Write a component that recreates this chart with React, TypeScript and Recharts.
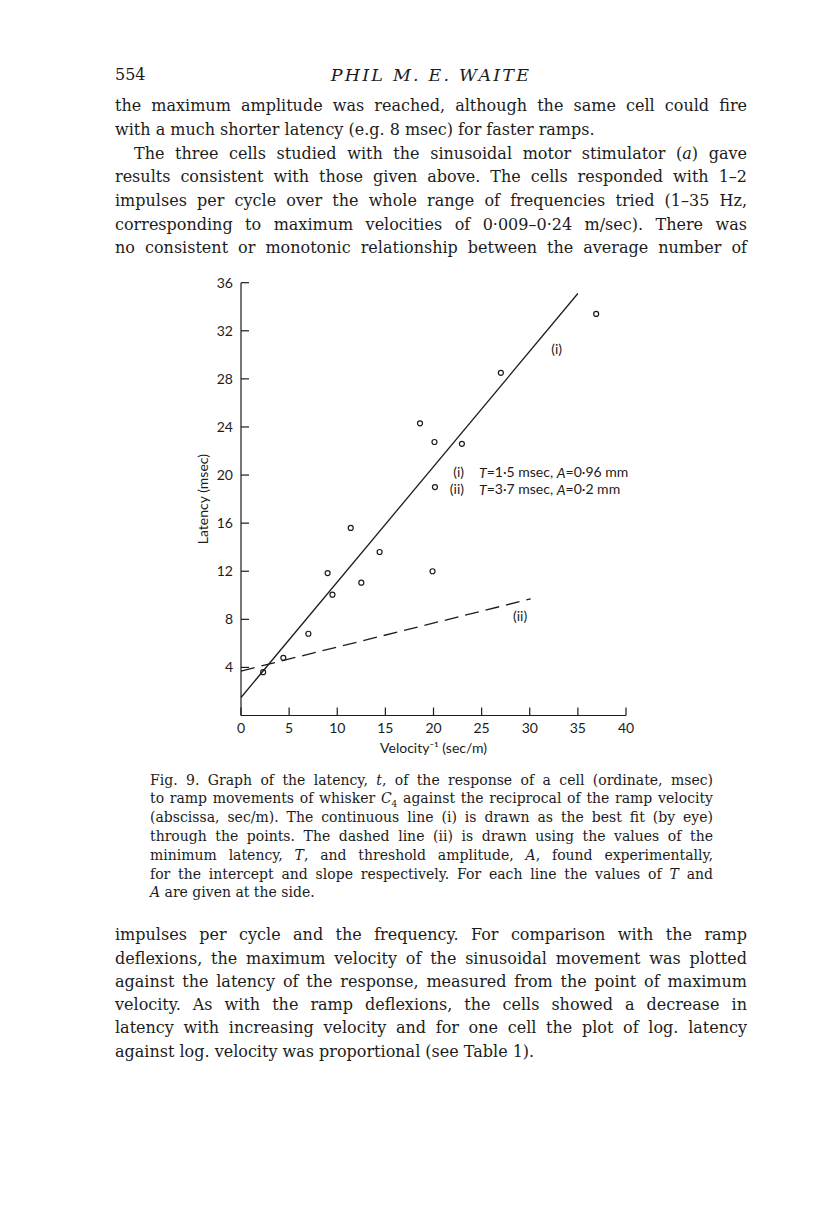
import React from 'react'
import { ScatterChart, Scatter, XAxis, YAxis, ReferenceDot } from 'recharts'

// axis ticks
const X_TICKS = [0, 5, 10, 15, 20, 25, 30, 35, 40]
const Y_TICKS = [4, 8, 12, 16, 20, 24, 28, 32, 36]

// measured latencies (msec) vs 1/velocity (sec/m)
const POINTS = [
  { x: 2.3, y: 3.6 },
  { x: 4.4, y: 4.8 },
  { x: 7.0, y: 6.8 },
  { x: 9.0, y: 11.85 },
  { x: 9.5, y: 10.05 },
  { x: 11.4, y: 15.6 },
  { x: 12.5, y: 11.05 },
  { x: 14.4, y: 13.6 },
  { x: 18.6, y: 24.3 },
  { x: 19.9, y: 12.0 },
  { x: 20.1, y: 22.75 },
  { x: 20.15, y: 19.0 },
  { x: 22.95, y: 22.6 },
  { x: 27.0, y: 28.5 },
  { x: 36.9, y: 33.4 },
]

// line (i): best fit by eye, line (ii): from T and A
const LINE_I = [
  { x: 0, y: 1.5 },
  { x: 35, y: 35.1 },
]
const LINE_II = [
  { x: 0, y: 3.7 },
  { x: 30.1, y: 9.7 },
]

const LEGEND_ROWS = [
  { roman: '(i)', t: '1·5', a: '0·96', x: 23.17, y: 20.26 },
  { roman: '(ii)', t: '3·7', a: '0·2', x: 23.17, y: 18.88 },
]
const LINE_TAGS = [
  { text: '(i)', x: 32.8, y: 30.5 },
  { text: '(ii)', x: 29.0, y: 8.24 },
]

const INK = '#1c1c1c'
const SANS = 'Lato, "Open Sans", sans-serif'
const SERIF = '"DejaVu Serif", "Liberation Serif", serif'

const OpenDot = (p: any) => (
  <circle cx={p.cx} cy={p.cy} r={2.5} fill="none" stroke={INK} strokeWidth={1.2} />
)
const NoDot = () => <g />

const LegendRow = ({ viewBox, roman, t, a }: any) => {
  const cx = viewBox.x + viewBox.width / 2
  const cy = viewBox.y + viewBox.height / 2
  return (
    <g fontSize={14} fill={INK} fontFamily={SANS}>
      <text x={cx} y={cy} textAnchor="end" dominantBaseline="central">
        {roman}
      </text>
      <text x={cx + 15} y={cy} dominantBaseline="central">
        <tspan fontStyle="italic">T</tspan>={t} msec, <tspan fontStyle="italic">A</tspan>={a} mm
      </text>
    </g>
  )
}

const Row = ({ children, last, indent }: { children: React.ReactNode; last?: boolean; indent?: number }) => (
  <div
    style={{
      textAlign: last ? 'left' : 'justify',
      textAlignLast: last ? 'left' : 'justify',
      textIndent: indent ?? 0,
      whiteSpace: 'nowrap',
    }}
  >
    {children}
  </div>
)

function Figure() {
  return (
    <ScatterChart
      width={520}
      height={520}
      margin={{ top: 22.7, right: 44, bottom: 24.5, left: 15 }}
      style={{ fontFamily: SANS }}
    >
      <XAxis
        type="number"
        dataKey="x"
        domain={[0, 40]}
        ticks={X_TICKS}
        interval={0}
        height={40}
        axisLine={{ stroke: INK, strokeWidth: 1.2 }}
        tickLine={{ stroke: INK, strokeWidth: 1.2 }}
        tickSize={-8}
        tickMargin={15.5}
        tick={{ fill: INK, fontSize: 14 }}
        label={{ value: 'Velocity⁻¹ (sec/m)', position: 'insideBottom', offset: 3, fill: INK, fontSize: 14 }}
      />
      <YAxis
        type="number"
        dataKey="y"
        domain={[0, 36]}
        ticks={Y_TICKS}
        interval={0}
        width={76}
        axisLine={{ stroke: INK, strokeWidth: 1.2 }}
        tickLine={{ stroke: INK, strokeWidth: 1.2 }}
        tickSize={-8}
        tickMargin={16}
        tick={{ fill: INK, fontSize: 14 }}
        label={{ value: 'Latency (msec)', angle: -90, position: 'center', fill: INK, fontSize: 14 }}
      />
      <Scatter
        data={LINE_I}
        line={{ stroke: INK, strokeWidth: 1.3 }}
        shape={NoDot}
        isAnimationActive={false}
      />
      <Scatter
        data={LINE_II}
        line={{ stroke: INK, strokeWidth: 1.3, strokeDasharray: '14 7' }}
        shape={NoDot}
        isAnimationActive={false}
      />
      <Scatter data={POINTS} shape={OpenDot} isAnimationActive={false} />
      {LINE_TAGS.map((tag) => (
        <ReferenceDot
          key={tag.text}
          x={tag.x}
          y={tag.y}
          r={1}
          fill="none"
          stroke="none"
          label={{ value: tag.text, position: 'center', fill: INK, fontSize: 14 }}
        />
      ))}
      {LEGEND_ROWS.map((row) => (
        <ReferenceDot
          key={row.roman}
          x={row.x}
          y={row.y}
          r={1}
          fill="none"
          stroke="none"
          label={<LegendRow roman={row.roman} t={row.t} a={row.a} />}
        />
      ))}
    </ScatterChart>
  )
}

export default function App() {
  return (
    <div
      style={{
        position: 'absolute',
        left: 0,
        top: 0,
        width: 816,
        height: 1215,
        background: '#fff',
        color: INK,
        fontFamily: SERIF,
        fontSize: 16,
      }}
    >
      <div style={{ position: 'absolute', left: 115, top: 63, width: 632, lineHeight: '24px' }}>
        <span>554</span>
        <span
          style={{
            position: 'absolute',
            left: 0,
            right: 0,
            textAlign: 'center',
            fontStyle: 'italic',
            fontSize: 17.5,
            letterSpacing: 2.2,
          }}
        >
          PHIL M. E. WAITE
        </span>
      </div>

      <div style={{ position: 'absolute', left: 115, top: 94.2, width: 632, lineHeight: '23.7px' }}>
        <Row>the maximum amplitude was reached, although the same cell could fire</Row>
        <Row last>with a much shorter latency (e.g. 8 msec) for faster ramps.</Row>
        <Row indent={19}>
          The three cells studied with the sinusoidal motor stimulator (<i>a</i>) gave
        </Row>
        <Row>results consistent with those given above. The cells responded with 1–2</Row>
        <Row>impulses per cycle over the whole range of frequencies tried (1–35 Hz,</Row>
        <Row>corresponding to maximum velocities of 0·009–0·24 m/sec). There was</Row>
        <Row>no consistent or monotonic relationship between the average number of</Row>
      </div>

      <div style={{ position: 'absolute', left: 150, top: 260 }}>
        <Figure />
      </div>

      <div
        style={{ position: 'absolute', left: 150, top: 770.6, width: 563, fontSize: 14, lineHeight: '18.8px' }}
      >
        <Row>
          Fig. 9. Graph of the latency, <i>t</i>, of the response of a cell (ordinate, msec)
        </Row>
        <Row>
          to ramp movements of whisker <i>C</i>
          <sub style={{ fontSize: 9, lineHeight: 0 }}>4</sub> against the reciprocal of the ramp velocity
        </Row>
        <Row>(abscissa, sec/m). The continuous line (i) is drawn as the best fit (by eye)</Row>
        <Row>through the points. The dashed line (ii) is drawn using the values of the</Row>
        <Row>
          minimum latency, <i>T</i>, and threshold amplitude, <i>A</i>, found experimentally,
        </Row>
        <Row>
          for the intercept and slope respectively. For each line the values of <i>T</i> and
        </Row>
        <Row last>
          <i>A</i> are given at the side.
        </Row>
      </div>

      <div style={{ position: 'absolute', left: 115, top: 923.3, width: 632, lineHeight: '23.3px' }}>
        <Row>impulses per cycle and the frequency. For comparison with the ramp</Row>
        <Row>deflexions, the maximum velocity of the sinusoidal movement was plotted</Row>
        <Row>against the latency of the response, measured from the point of maximum</Row>
        <Row>velocity. As with the ramp deflexions, the cells showed a decrease in</Row>
        <Row>latency with increasing velocity and for one cell the plot of log. latency</Row>
        <Row last>against log. velocity was proportional (see Table 1).</Row>
      </div>
    </div>
  )
}
